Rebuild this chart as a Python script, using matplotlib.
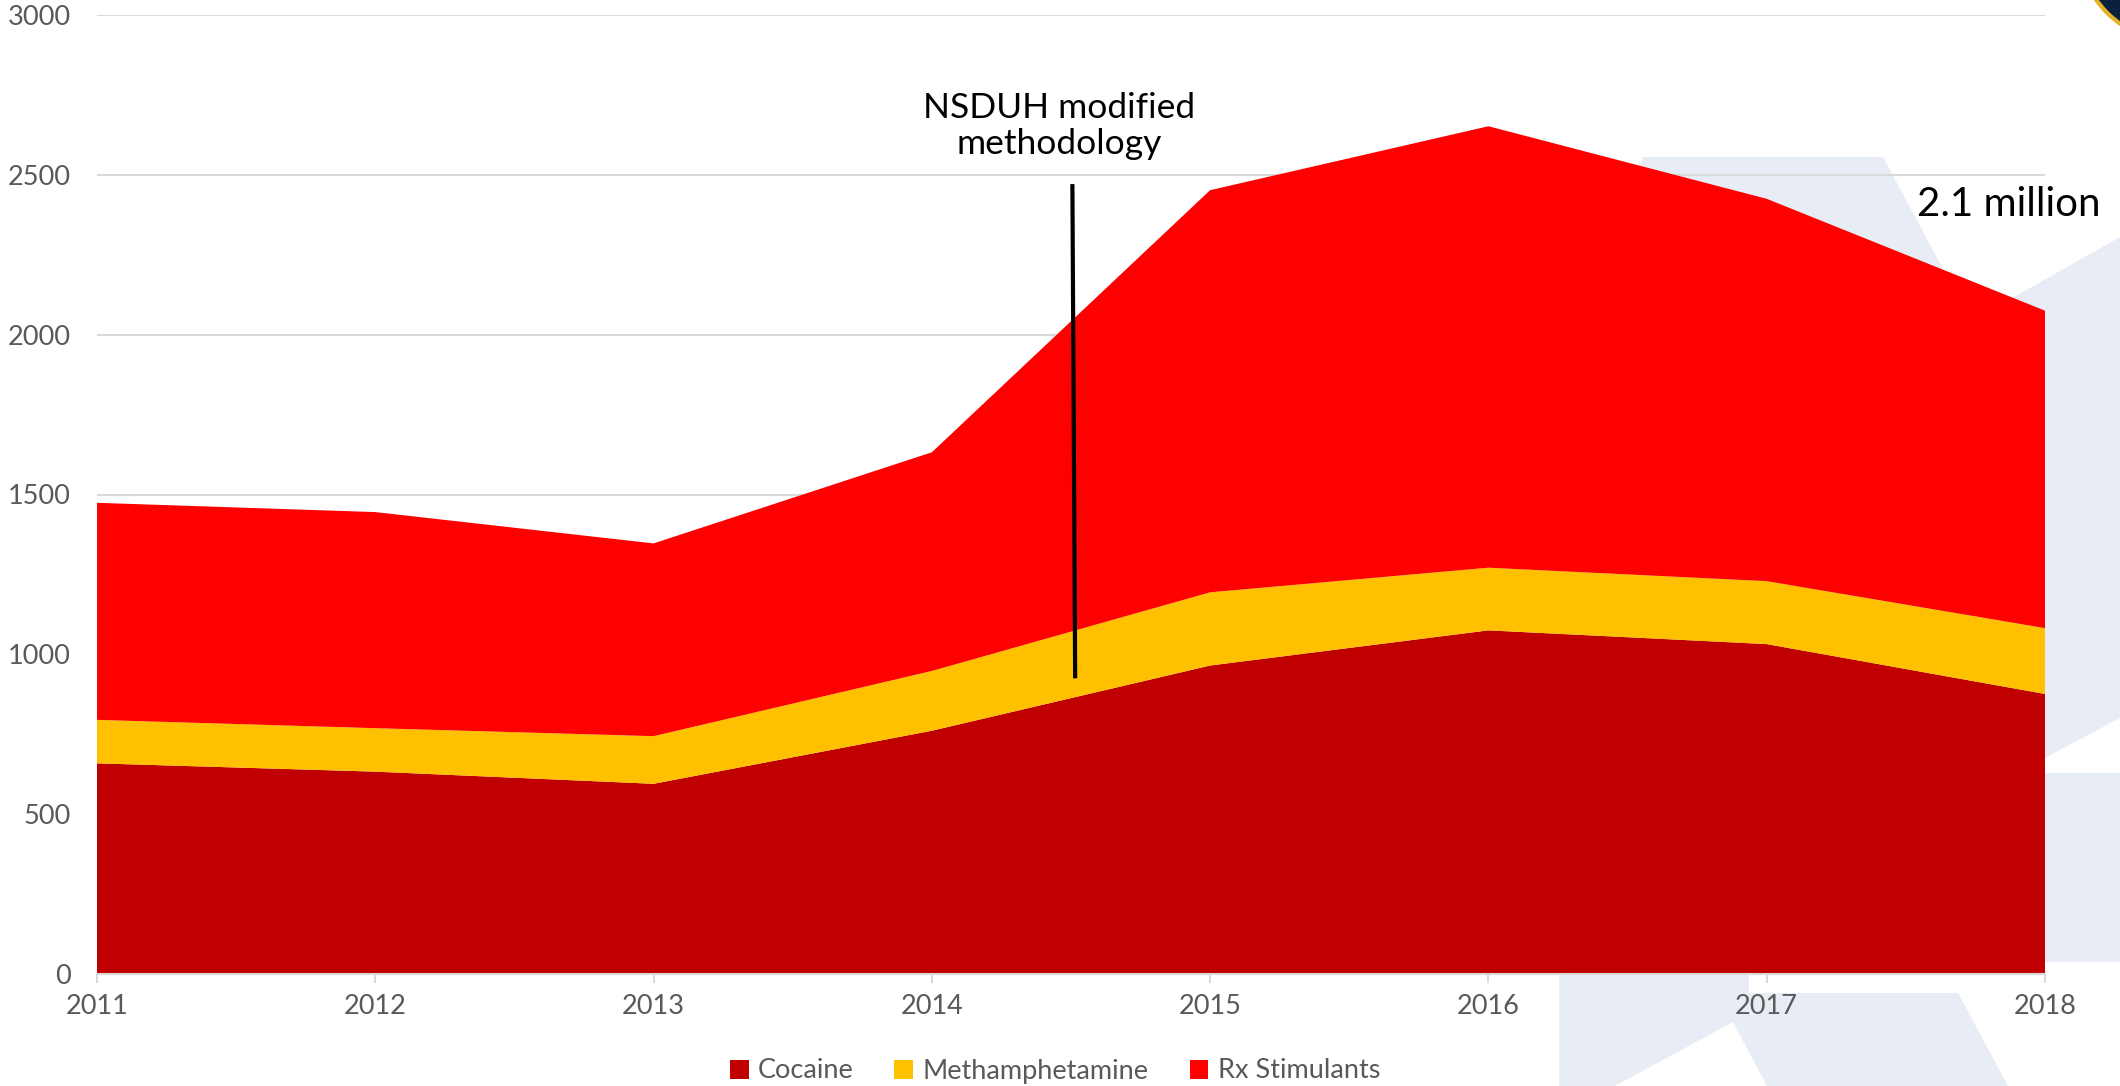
import matplotlib
matplotlib.use("Agg")
import matplotlib.pyplot as plt
from matplotlib.patches import Polygon, Ellipse, Patch

plt.rcParams['font.family'] = ['Lato', 'DejaVu Sans']

years = [2011, 2012, 2013, 2014, 2015, 2016, 2017, 2018]
cocaine = [659, 633, 595, 761, 965, 1075, 1032, 876]
meth = [136, 136, 149, 187, 229, 196, 197, 206]
rx_stim = [679, 676, 603, 684, 1258, 1381, 1196, 993]
series_names = ["Cocaine", "Methamphetamine", "Rx Stimulants"]
colors = ["#C00000", "#FFC000", "#FF0000"]
y_ticks = [0, 500, 1000, 1500, 2000, 2500, 3000]
method_change_x = 2014.51
method_change_y = [925, 2471]

W, H = 2120, 1086
fig = plt.figure(figsize=(W / 100, H / 100), dpi=100)
fig.patch.set_facecolor("white")

bg = "#E8ECF4"


def px(pts):
    return [(x / W, 1 - y / H) for x, y in pts]


# background watermark shapes (decoration)
shapes = [
    [(1643, 157), (1883, 157), (1965, 310), (1965, 974), (1559, 974), (1559, 420)],
    [(2000, 305), (2120, 237), (2120, 718), (2045, 758), (2000, 758)],
    [(2045, 773), (2120, 773), (2120, 962), (2045, 962)],
    [(1559, 960), (1749, 960), (1749, 993), (1958, 993), (2008, 1086), (1767, 1086),
     (1733, 1022), (1615, 1086), (1559, 1086)],
]
for s in shapes:
    fig.add_artist(Polygon(px(s), closed=True, facecolor=bg, edgecolor="none",
                           transform=fig.transFigure, zorder=0))

# logo corner
fig.add_artist(Ellipse((2180 / W, 1 + 60 / H), 2 * 103 / W, 2 * 103 / H,
                       facecolor="#0B1F3F", edgecolor="#E6B325", linewidth=3,
                       transform=fig.transFigure, zorder=0))

left, right, top, bottom = 97, 2045, 15, 974
ax = fig.add_axes([left / W, 1 - bottom / H, (right - left) / W, (bottom - top) / H])
ax.set_facecolor("none")
ax.set_zorder(1)

ax.stackplot(years, cocaine, meth, rx_stim, colors=colors, labels=series_names,
             linewidth=0)

ax.set_xlim(2011, 2018)
ax.set_ylim(0, 3000)
ax.set_xticks(years)
ax.set_xticklabels([str(y) for y in years])
ax.set_yticks(y_ticks)
ax.set_axisbelow(True)
ax.grid(axis="y", color="#D9D9D9", linewidth=1.5)
ax.grid(axis="x", visible=False)
for sp in ["left", "right", "top"]:
    ax.spines[sp].set_visible(False)
ax.spines["bottom"].set_color("#D9D9D9")
ax.spines["bottom"].set_linewidth(1.5)
ax.spines["bottom"].set_zorder(5)
ax.tick_params(axis="x", colors="#595959", labelsize=19.5, length=6.5, width=1.5,
               pad=8)
ax.tick_params(axis="x", color="#D9D9D9")
ax.tick_params(axis="y", colors="#595959", labelsize=19.5, length=0, pad=19)

# methodology line
ax.plot([method_change_x - 0.005, method_change_x + 0.005],
        [method_change_y[1], method_change_y[0]], color="black", linewidth=3,
        solid_capstyle="butt", zorder=6)
fig.text(1059 / W, 1 - 126 / H, "NSDUH modified\nmethodology", ha="center",
         va="center", fontsize=25.5, color="black", linespacing=1.15)
fig.text(2009 / W, 1 - 204 / H, "2.1 million", ha="center", va="center",
         fontsize=29, color="black")

handles = [Patch(facecolor=c, edgecolor="none") for c in colors]
fig.legend(handles, series_names, loc="center", bbox_to_anchor=(1055 / W, 1 - 1071 / H),
           ncol=3, frameon=False, fontsize=19.5, handlelength=0.7, handleheight=0.7,
           handletextpad=0.35, columnspacing=1.5, labelcolor="#595959")

fig.savefig("out.png", dpi=100, facecolor="white")
